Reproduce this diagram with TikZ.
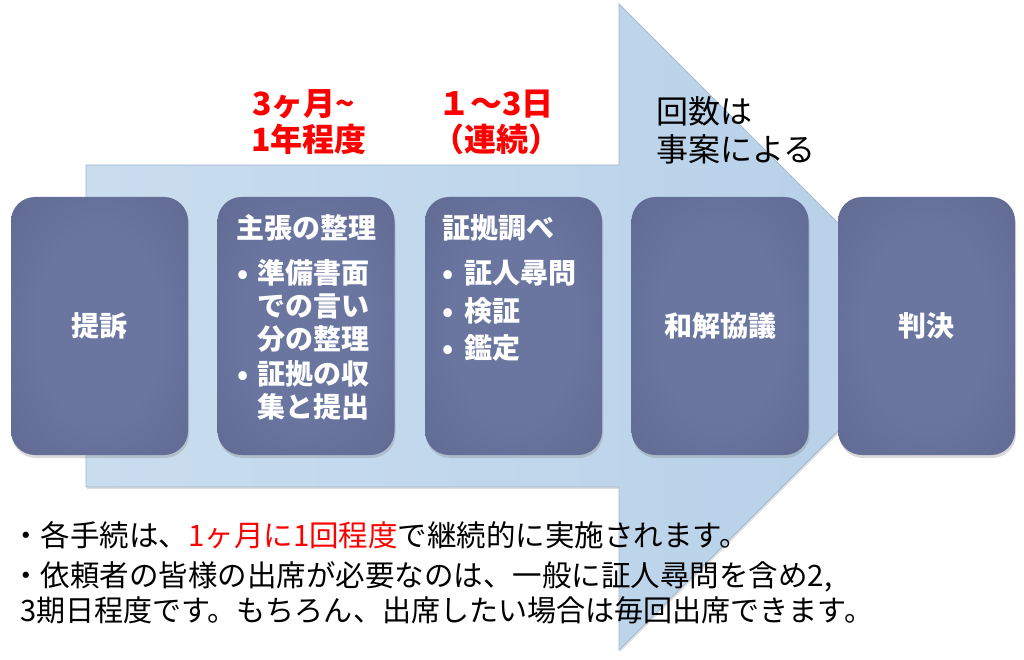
\documentclass[tikz,border=0pt]{standalone}
\usepackage{fontspec}
\newfontfamily\jp{Noto Sans CJK JP}
\usetikzlibrary{shadows}
\definecolor{boxin}{RGB}{106,117,160}
\definecolor{boxout}{RGB}{86,95,131}
\definecolor{arrowl}{RGB}{202,221,239}
\definecolor{arrowr}{RGB}{182,208,232}
\definecolor{arrowedge}{RGB}{160,182,205}
\pgfdeclareradialshading{boxshade}{\pgfpoint{0bp}{0bp}}{color(0bp)=(boxin); color(18bp)=(boxin); color(55bp)=(boxout); color(75bp)=(boxout)}
\begin{document}
\begin{tikzpicture}[x=1pt,y=-1pt,
  arrowbg/.style={left color=arrowl, right color=arrowr, draw=arrowedge, line width=0.7pt,
    drop shadow={opacity=0.25, shadow xshift=1pt, shadow yshift=-2pt}},
  stepbox/.style={rectangle, rounded corners=24pt, shading=boxshade, minimum width=177pt,
    minimum height=258pt, inner sep=0pt, text=white,
    drop shadow={opacity=0.3, shadow xshift=1pt, shadow yshift=-3pt},
    font=\jp\bfseries\fontsize{28}{32}\selectfont},
  boxtxt/.style={anchor=base west, inner sep=0pt, text=white, font=\jp\bfseries\fontsize{28}{32}\selectfont},
  redlab/.style={anchor=base west, inner sep=0pt, text=red, font=\jp\bfseries\fontsize{32}{36}\selectfont},
  blklab/.style={anchor=base west, inner sep=0pt, text=black, font=\jp\fontsize{32}{36}\selectfont},
  bottxt/.style={anchor=base west, inner sep=0pt, text=black, font=\jp\fontsize{29.5}{34}\selectfont}]
\useasboundingbox (0,0) rectangle (1024,660);
\path[arrowbg] (86,165) -- (619,165) -- (619,4) -- (942,327) -- (619,650) -- (619,487) -- (86,487) -- cycle;
\node[stepbox] (teiso) at (99.5,326) {提訴};
\node[stepbox] (shucho) at (306,326) {};
\node[stepbox] (shoko) at (513.5,326) {};
\node[stepbox] (wakai) at (720,326) {和解協議};
\node[stepbox] (hanketsu) at (926.5,326) {判決};
\node[boxtxt] (t2) at (236,239) {主張の整理};
\node[boxtxt] (t2a) at (233,283) {\makebox[20pt]{•}\hspace{4pt}準備書面};
\node[boxtxt] (t2b) at (257,316) {での言い};
\node[boxtxt] (t2c) at (257,349) {分の整理};
\node[boxtxt] (t2d) at (233,384) {\makebox[20pt]{•}\hspace{4pt}証拠の収};
\node[boxtxt] (t2e) at (257,417) {集と提出};
\node[boxtxt] (t3) at (442,239) {証拠調べ};
\node[boxtxt] (t3a) at (438,283) {\makebox[20pt]{•}\hspace{6pt}証人尋問};
\node[boxtxt] (t3b) at (438,321) {\makebox[20pt]{•}\hspace{6pt}検証};
\node[boxtxt] (t3c) at (438,358) {\makebox[20pt]{•}\hspace{6pt}鑑定};
\node[redlab] (r1a) at (252,116) {3ヶ月\string~};
\node[redlab] (r1b) at (251,152) {1年程度};
\node[redlab] (r2a) at (438,116) {１～3日};
\node[redlab] (r2b) at (432,152) {（連続）};
\node[blklab] (k1) at (656,124) {回数は};
\node[blklab] (k2) at (656,162) {事案による};
\node[bottxt] (n1) at (11,546) {・各手続は、\textcolor{red}{1ヶ月に1回程度}で継続的に実施されます。};
\node[bottxt] (n2) at (11,586) {・依頼者の皆様の出席が必要なのは、一般に証人尋問を含め2,};
\node[bottxt] (n3) at (20,621) {\scalebox{0.985}[1]{3期日程度です。もちろん、出席したい場合は毎回出席できます。}};
\end{tikzpicture}
\end{document}
